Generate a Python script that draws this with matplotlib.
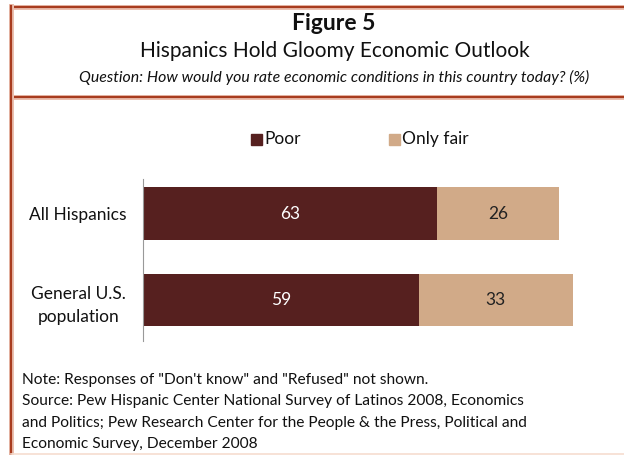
import matplotlib
matplotlib.use("Agg")
import matplotlib.pyplot as plt
from matplotlib.lines import Line2D

categories = ["All Hispanics", "General U.S.\npopulation"]
poor = [63, 59]
only_fair = [26, 33]
series_names = ["Poor", "Only fair"]

W, H = 624, 455
plt.rcParams['font.family'] = ['Lato', 'DejaVu Sans']
fig = plt.figure(figsize=(W / 100, H / 100), dpi=100)

def fx(x):
    return x / W

def fy(y):
    return 1 - y / H

POOR_C = "#56201F"
FAIR_C = "#D1AA88"
BORDER = "#A83C1F"
HALO = "#EBC0B0"

def hline(y, x0, x1, color=BORDER, halo=True):
    if halo:
        fig.add_artist(Line2D([fx(x0), fx(x1)], [fy(y), fy(y)], color=HALO, lw=3.6, transform=fig.transFigure))
    fig.add_artist(Line2D([fx(x0), fx(x1)], [fy(y), fy(y)], color=color, lw=1.6, transform=fig.transFigure))

def vline(x, y0, y1):
    fig.add_artist(Line2D([fx(x), fx(x)], [fy(y0), fy(y1)], color=HALO, lw=3.6, transform=fig.transFigure))
    fig.add_artist(Line2D([fx(x), fx(x)], [fy(y0), fy(y1)], color=BORDER, lw=1.6, transform=fig.transFigure))

hline(6.5, 10.5, 625)
hline(97, 10.5, 625)
vline(11, 6, 456)
fig.add_artist(Line2D([fx(11), fx(625)], [fy(454), fy(454)], color="#F6DDD0", lw=1.2, transform=fig.transFigure))

fig.text(fx(334), fy(23), "Figure 5", ha="center", va="center", fontsize=16.5, fontweight="bold", color="#111111")
fig.text(fx(335), fy(51), "Hispanics Hold Gloomy Economic Outlook", ha="center", va="center", fontsize=15, color="#111111")
fig.text(fx(334), fy(77), "Question: How would you rate economic conditions in this country today? (%)", ha="center", va="center", fontsize=11.4, style="italic", color="#111111")

# axes
left_px, right_px = 143, 610
top_px, bottom_px = 179, 341
ax = fig.add_axes([fx(left_px), fy(bottom_px), fx(right_px - left_px), (bottom_px - top_px) / H])
ypos = list(range(len(categories)))
ax.barh(ypos, poor, height=0.61, color=POOR_C, edgecolor="none")
ax.barh(ypos, only_fair, left=poor, height=0.61, color=FAIR_C, edgecolor="none")
ax.set_xlim(0, 100)
ax.set_ylim(1.474, -0.399)
for i in ypos:
    ax.text(poor[i] / 2, i, str(poor[i]), ha="center", va="center", color="white", fontsize=12.5)
    ax.text(poor[i] + only_fair[i] / 2, i, str(only_fair[i]), ha="center", va="center", color="#222222", fontsize=12.5)
ax.set_yticks(ypos)
ax.set_yticklabels(categories, fontsize=12.5, color="#111111", multialignment="center", linespacing=1.55)
ax.tick_params(axis="y", length=0, pad=12)
ax.set_xticks([])
for s in ["top", "right", "bottom"]:
    ax.spines[s].set_visible(False)
ax.spines["left"].set_color("#999999")
ax.spines["left"].set_linewidth(0.8)

# legend
fig.patches.append(plt.Rectangle((fx(251), fy(145)), fx(11), 11 / H, color=POOR_C, transform=fig.transFigure))
fig.text(fx(264), fy(139), series_names[0], ha="left", va="center", fontsize=12.5, color="#111111")
fig.patches.append(plt.Rectangle((fx(389), fy(145)), fx(11), 11 / H, color=FAIR_C, transform=fig.transFigure))
fig.text(fx(402), fy(139), series_names[1], ha="left", va="center", fontsize=12.5, color="#111111")

notes = [
    "Note: Responses of \"Don't know\" and \"Refused\" not shown.",
    "Source: Pew Hispanic Center National Survey of Latinos 2008, Economics",
    "and Politics; Pew Research Center for the People & the Press, Political and",
    "Economic Survey, December 2008",
]
for k, line in enumerate(notes):
    fig.text(fx(22), fy(380 + k * 21.3), line, ha="left", va="center", fontsize=11.2, color="#111111")

fig.savefig("out.png", dpi=100, facecolor="white")
